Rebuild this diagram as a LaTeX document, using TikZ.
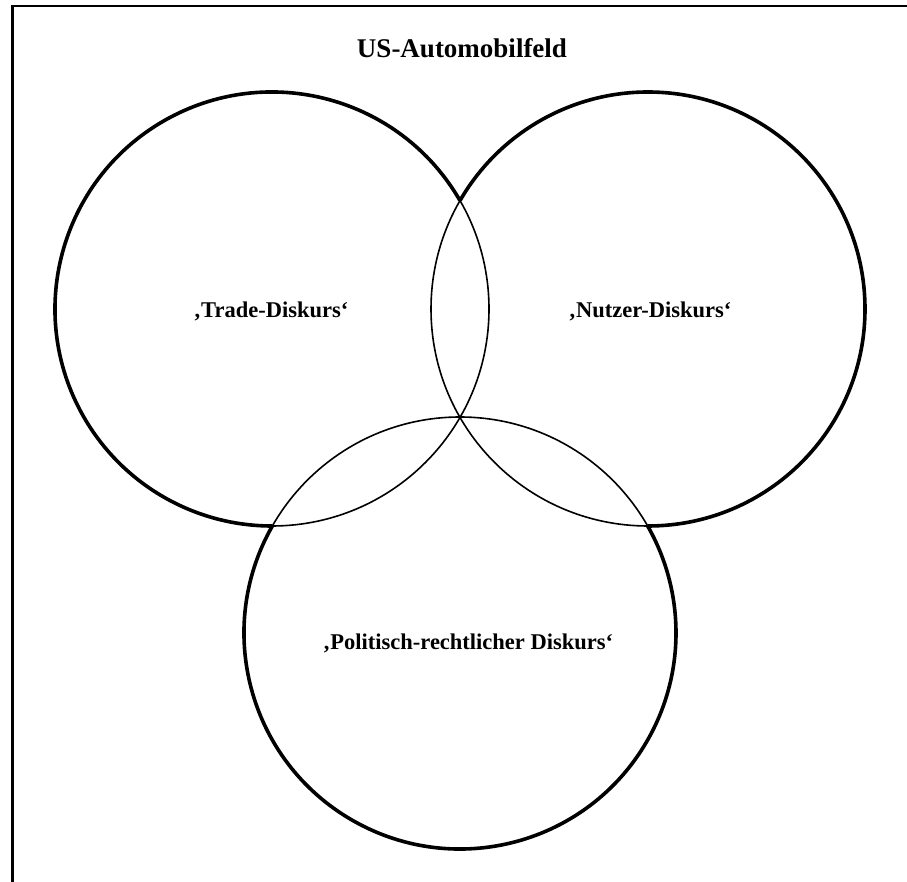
\documentclass[tikz,border=0pt]{standalone}
\usepackage{fontspec}
\setmainfont{Liberation Serif}
\begin{document}
\begin{tikzpicture}[x=1pt,y=1pt,
  outerline/.style={line width=3.6pt},
  innerline/.style={line width=1.6pt},
  label/.style={font=\bfseries\fontsize{22.5}{27}\selectfont, anchor=base, inner sep=0pt},
  titlelabel/.style={font=\bfseries\fontsize{27}{32}\selectfont, anchor=base, inner sep=0pt}]
  \useasboundingbox (0,0) rectangle (907,881);
  \clip (0,0) rectangle (907,881);

  % open frame: only the top and left edges fall inside the page
  \draw[line width=2.2pt] (12.5,-20) |- (930,875);

  % circle centres
  \coordinate (ct) at (272,572);
  \coordinate (cn) at (648,572);
  \coordinate (cp) at (460,248);

  % full circles in the thin weight (overlap arcs)
  \draw[innerline] (ct) circle[radius=217];
  \draw[innerline] (cn) circle[radius=217];
  \draw[innerline] (cp) circle[radius=216];

  % outer arcs in the heavy weight
  \draw[outerline] (ct) ++(30:217) arc[start angle=30, end angle=270, radius=217];
  \draw[outerline] (cn) ++(-90:217) arc[start angle=-90, end angle=150, radius=217];
  \draw[outerline] (cp) ++(150:216) arc[start angle=150, end angle=390, radius=216];

  % labels
  \node[titlelabel] (title) at (462,823) {US-Automobilfeld};
  \node[label] (trade) at (271,563) {‚Trade-Diskurs‘};
  \node[label] (nutzer) at (650,563) {‚Nutzer-Diskurs‘};
  \node[label] (politik) at (468,231) {‚Politisch-rechtlicher Diskurs‘};
\end{tikzpicture}
\end{document}
